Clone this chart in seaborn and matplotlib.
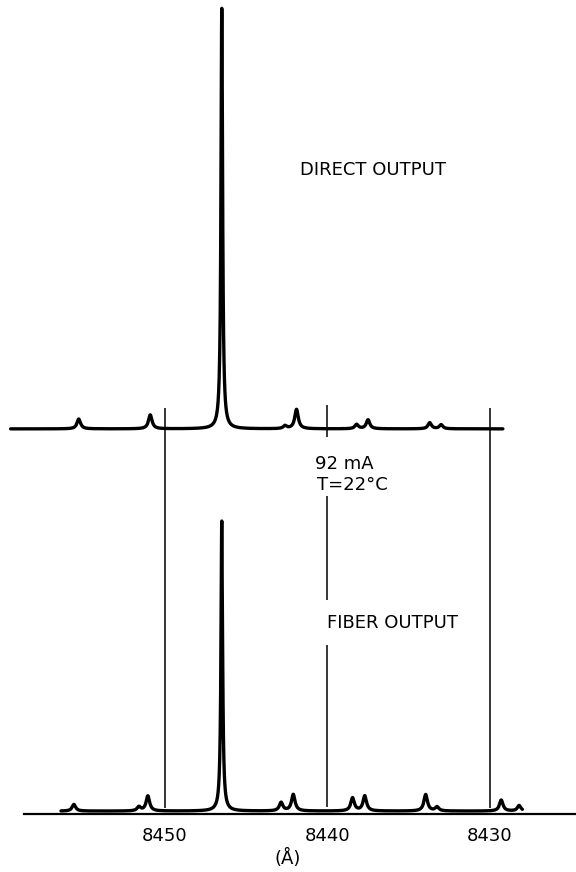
import numpy as np
import pandas as pd
import matplotlib
matplotlib.use("Agg")
import matplotlib.pyplot as plt
import seaborn as sns

# Longitudinal modes of the laser (wavelength in Å, relative intensity)
direct_modes = [8455.3, 8450.9, 8446.5, 8442.6, 8441.9, 8438.2, 8437.5, 8433.7, 8433.0]
direct_heights = [3.4, 4.8, 145.0, 1.0, 6.7, 1.5, 3.1, 2.1, 1.4]
fiber_modes = [8455.6, 8451.6, 8451.05, 8446.5, 8442.85, 8442.1, 8438.45,
               8437.7, 8433.95, 8433.25, 8429.3, 8428.2]
fiber_heights = [2.3, 1.4, 5.2, 100.0, 2.9, 5.7, 4.5, 5.2, 5.7, 1.4, 3.8, 1.9]

# Scanned wavelength range of each trace
direct_span = (8459.5, 8429.2)
fiber_span = (8456.4, 8428.0)

tick_values = [8450, 8440, 8430]
tick_labels = ["8450", "8440", "8430"]

# vertical offsets of the two traces on the chart
FIBER_BASE = 1.0
DIRECT_BASE = 132.8


def trace(modes, heights, span, base, name):
    wl = np.arange(span[1], span[0], 0.004)
    y = np.full_like(wl, base)
    for c, h in zip(modes, heights):
        hw = 0.06 if h > 50 else 0.13
        y += h / (1.0 + ((wl - c) / hw) ** 2)
    return pd.DataFrame({"wavelength": wl, "intensity": y, "trace": name})


df = pd.concat([
    trace(direct_modes, direct_heights, direct_span, DIRECT_BASE, "direct"),
    trace(fiber_modes, fiber_heights, fiber_span, FIBER_BASE, "fiber"),
], ignore_index=True)

sns.set_theme(style="white")
plt.rcParams["font.family"] = ["DejaVu Sans"]

fig = plt.figure(figsize=(5.76, 8.72), dpi=100)
ax = fig.add_axes([0.0, 58 / 872, 1.0, 814 / 872])

sns.lineplot(data=df, x="wavelength", y="intensity", units="trace",
             estimator=None, sort=False, color="black", lw=2.4, ax=ax)

# wavelength markers joining the two traces
ax.vlines([8450, 8430], 2.0, 140.0, color="black", lw=1.1)
ax.vlines([8440, 8440, 8440], [2.4, 73.8, 130.0], [58.3, 109.7, 141.0],
          color="black", lw=1.1)

ax.set_xlim(8460.15, 8424.7)
ax.set_ylim(0, 814 / 2.9)

for s in ["top", "left", "right"]:
    ax.spines[s].set_visible(False)
ax.spines["bottom"].set_bounds(8458.7, 8424.7)
ax.spines["bottom"].set_linewidth(1.6)
ax.spines["bottom"].set_color("black")

ax.set_yticks([])
ax.set_xticks(tick_values)
ax.set_xticklabels(tick_labels)
ax.tick_params(axis="x", length=0, pad=9, labelsize=13, colors="black")
ax.set_xlabel("(Å)", fontsize=13, labelpad=3, color="black")
ax.set_ylabel("")

txt = dict(fontsize=13, color="black", ha="left", va="center")
ax.text(8441.7, 222.0, "DIRECT OUTPUT", **txt)
ax.text(8440.77, 120.7, "92 mA", **txt)
ax.text(8440.64, 113.6, "T=22°C", **txt)
ax.text(8440.03, 65.9, "FIBER OUTPUT", **txt)

fig.savefig("out.png", dpi=100)
